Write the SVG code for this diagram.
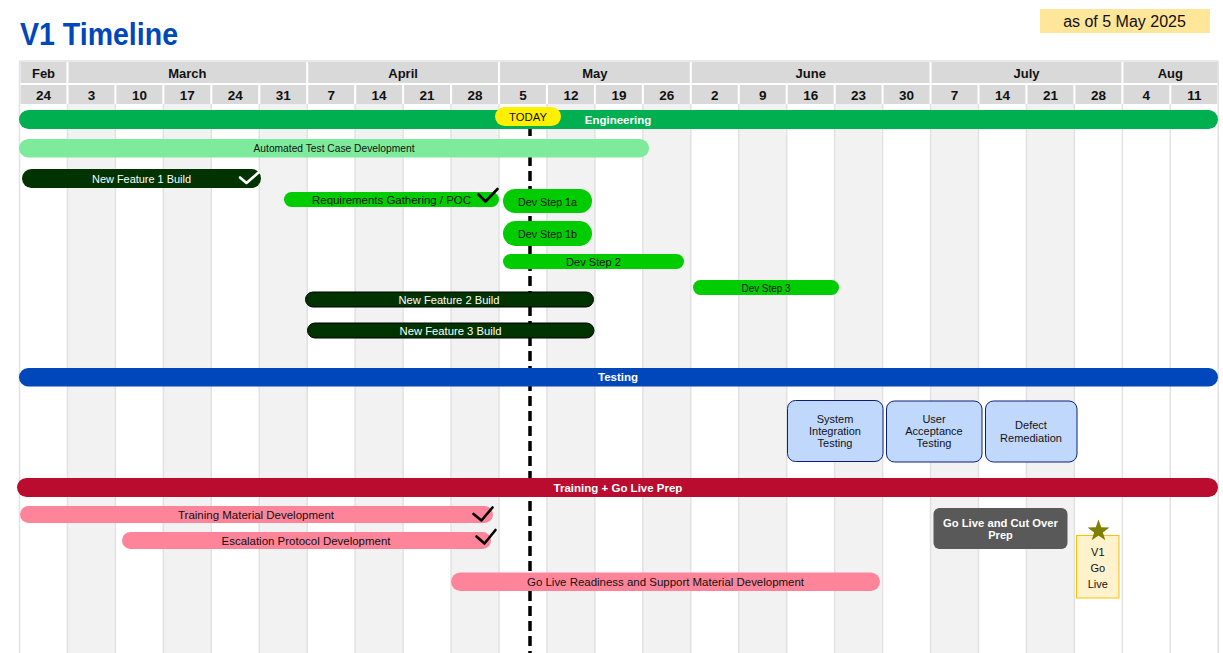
<svg xmlns="http://www.w3.org/2000/svg" width="1223" height="653" viewBox="0 0 1223 653">
<style>
text{font-family:"Liberation Sans",Arial,sans-serif;}
.mh{fill:#d9d9d9;}
.ml{font-size:13px;font-weight:bold;fill:#111;text-anchor:middle;}
.wl{font-size:13.5px;font-weight:bold;fill:#111;text-anchor:middle;}
.stripe{fill:#f2f2f2;}
.gl{stroke:#e2e2e2;stroke-width:1.5;}
.t{text-anchor:middle;fill:#111;font-size:11px;}
.w{fill:#fff;}
.hb{font-size:11.5px;font-weight:bold;fill:#fff;text-anchor:middle;}
.dg{fill:#003300;}
.bg{fill:#00cc00;}
.pk{fill:#fe8599;}
.tb{fill:#c1d8fd;stroke:#0b1f7a;stroke-width:1;}
.chk{fill:none;stroke-width:2.6;stroke-linecap:round;stroke-linejoin:round;}
</style>
<rect width="1223" height="653" fill="#fff"/>
<text x="20" y="45" font-size="32" font-weight="bold" fill="#0047bb" textLength="158" lengthAdjust="spacingAndGlyphs">V1 Timeline</text>
<g id="asof">
<rect x="1040" y="9" width="170" height="24" fill="#ffe699"/>
<text x="1124.5" y="27" font-size="16" fill="#111" text-anchor="middle">as of 5 May 2025</text>
</g>
<g id="grid">
<rect class="stripe" x="67.45" y="104" width="47.95" height="549"/>
<rect class="stripe" x="163.35" y="104" width="47.95" height="549"/>
<rect class="stripe" x="259.25" y="104" width="47.95" height="549"/>
<rect class="stripe" x="355.15" y="104" width="47.95" height="549"/>
<rect class="stripe" x="451.05" y="104" width="47.95" height="549"/>
<rect class="stripe" x="546.95" y="104" width="47.95" height="549"/>
<rect class="stripe" x="642.85" y="104" width="47.95" height="549"/>
<rect class="stripe" x="738.75" y="104" width="47.95" height="549"/>
<rect class="stripe" x="834.65" y="104" width="47.95" height="549"/>
<rect class="stripe" x="930.55" y="104" width="47.95" height="549"/>
<rect class="stripe" x="1026.45" y="104" width="47.95" height="549"/>
<g class="gl">
<line x1="19.5" y1="61" x2="19.5" y2="653"/>
<line x1="67.45" y1="104" x2="67.45" y2="653"/>
<line x1="115.4" y1="104" x2="115.4" y2="653"/>
<line x1="163.35" y1="104" x2="163.35" y2="653"/>
<line x1="211.3" y1="104" x2="211.3" y2="653"/>
<line x1="259.25" y1="104" x2="259.25" y2="653"/>
<line x1="307.2" y1="104" x2="307.2" y2="653"/>
<line x1="355.15" y1="104" x2="355.15" y2="653"/>
<line x1="403.1" y1="104" x2="403.1" y2="653"/>
<line x1="451.05" y1="104" x2="451.05" y2="653"/>
<line x1="499" y1="104" x2="499" y2="653"/>
<line x1="546.95" y1="104" x2="546.95" y2="653"/>
<line x1="594.9" y1="104" x2="594.9" y2="653"/>
<line x1="642.85" y1="104" x2="642.85" y2="653"/>
<line x1="690.8" y1="104" x2="690.8" y2="653"/>
<line x1="738.75" y1="104" x2="738.75" y2="653"/>
<line x1="786.7" y1="104" x2="786.7" y2="653"/>
<line x1="834.65" y1="104" x2="834.65" y2="653"/>
<line x1="882.6" y1="104" x2="882.6" y2="653"/>
<line x1="930.55" y1="104" x2="930.55" y2="653"/>
<line x1="978.5" y1="104" x2="978.5" y2="653"/>
<line x1="1026.45" y1="104" x2="1026.45" y2="653"/>
<line x1="1074.4" y1="104" x2="1074.4" y2="653"/>
<line x1="1122.35" y1="104" x2="1122.35" y2="653"/>
<line x1="1170.3" y1="104" x2="1170.3" y2="653"/>
<line x1="1218.25" y1="61" x2="1218.25" y2="653"/>
<line x1="19.5" y1="61" x2="1218.25" y2="61"/>
</g>
</g>
<g id="header">
<rect class="mh" x="20.5" y="62" width="45.9" height="21"/>
<rect class="mh" x="68.5" y="62" width="237.7" height="21"/>
<rect class="mh" x="308.2" y="62" width="189.8" height="21"/>
<rect class="mh" x="500" y="62" width="189.8" height="21"/>
<rect class="mh" x="691.8" y="62" width="237.7" height="21"/>
<rect class="mh" x="931.6" y="62" width="189.8" height="21"/>
<rect class="mh" x="1123.4" y="62" width="94.3" height="21"/>
<text class="ml" x="43.5" y="78">Feb</text>
<text class="ml" x="187.3" y="78">March</text>
<text class="ml" x="403.1" y="78">April</text>
<text class="ml" x="594.9" y="78">May</text>
<text class="ml" x="810.7" y="78">June</text>
<text class="ml" x="1026.5" y="78">July</text>
<text class="ml" x="1170.3" y="78">Aug</text>
<g class="mh">
<rect x="20.5" y="85" width="45.9" height="19"/>
<rect x="68.5" y="85" width="45.9" height="19"/>
<rect x="116.4" y="85" width="45.9" height="19"/>
<rect x="164.4" y="85" width="45.9" height="19"/>
<rect x="212.3" y="85" width="45.9" height="19"/>
<rect x="260.3" y="85" width="45.9" height="19"/>
<rect x="308.2" y="85" width="45.9" height="19"/>
<rect x="356.2" y="85" width="45.9" height="19"/>
<rect x="404.1" y="85" width="45.9" height="19"/>
<rect x="452.1" y="85" width="45.9" height="19"/>
<rect x="500" y="85" width="45.9" height="19"/>
<rect x="548" y="85" width="45.9" height="19"/>
<rect x="595.9" y="85" width="45.9" height="19"/>
<rect x="643.9" y="85" width="45.9" height="19"/>
<rect x="691.8" y="85" width="45.9" height="19"/>
<rect x="739.8" y="85" width="45.9" height="19"/>
<rect x="787.7" y="85" width="45.9" height="19"/>
<rect x="835.7" y="85" width="45.9" height="19"/>
<rect x="883.6" y="85" width="45.9" height="19"/>
<rect x="931.6" y="85" width="45.9" height="19"/>
<rect x="979.5" y="85" width="45.9" height="19"/>
<rect x="1027.5" y="85" width="45.9" height="19"/>
<rect x="1075.4" y="85" width="45.9" height="19"/>
<rect x="1123.4" y="85" width="45.9" height="19"/>
<rect x="1171.3" y="85" width="45.9" height="19"/>
</g>
<text class="wl" x="43.5" y="99.5">24</text>
<text class="wl" x="91.4" y="99.5">3</text>
<text class="wl" x="139.4" y="99.5">10</text>
<text class="wl" x="187.3" y="99.5">17</text>
<text class="wl" x="235.3" y="99.5">24</text>
<text class="wl" x="283.2" y="99.5">31</text>
<text class="wl" x="331.2" y="99.5">7</text>
<text class="wl" x="379.1" y="99.5">14</text>
<text class="wl" x="427.1" y="99.5">21</text>
<text class="wl" x="475" y="99.5">28</text>
<text class="wl" x="523" y="99.5">5</text>
<text class="wl" x="570.9" y="99.5">12</text>
<text class="wl" x="618.9" y="99.5">19</text>
<text class="wl" x="666.8" y="99.5">26</text>
<text class="wl" x="714.8" y="99.5">2</text>
<text class="wl" x="762.7" y="99.5">9</text>
<text class="wl" x="810.7" y="99.5">16</text>
<text class="wl" x="858.6" y="99.5">23</text>
<text class="wl" x="906.6" y="99.5">30</text>
<text class="wl" x="954.5" y="99.5">7</text>
<text class="wl" x="1002.5" y="99.5">14</text>
<text class="wl" x="1050.4" y="99.5">21</text>
<text class="wl" x="1098.4" y="99.5">28</text>
<text class="wl" x="1146.3" y="99.5">4</text>
<text class="wl" x="1194.3" y="99.5">11</text>
</g>
<g id="connectors">
<line x1="530" y1="126" x2="530" y2="653" stroke="#000" stroke-width="3.5" stroke-dasharray="10 5"/>
</g>
<g id="engineering">
<rect x="19" y="110" width="1199" height="19" rx="9.5" fill="#00b050"/>
<text class="hb" x="618" y="123.5">Engineering</text>
</g>
<g id="today">
<rect x="495" y="107" width="66" height="19" rx="9.5" fill="#fff000"/>
<text class="t" x="528" y="120.8" font-size="12" textLength="38" lengthAdjust="spacingAndGlyphs">TODAY</text>
</g>
<g id="auto-test">
<rect x="19" y="139" width="630" height="18.5" rx="9.25" fill="#7deb9b"/>
<text class="t" x="334" y="151.8" font-size="10.5" textLength="161" lengthAdjust="spacingAndGlyphs">Automated Test Case Development</text>
</g>
<g id="nf1">
<rect class="dg" x="22" y="169" width="239" height="19" rx="9.5"/>
<text class="t w" x="141.5" y="183" font-size="13" textLength="99" lengthAdjust="spacingAndGlyphs">New Feature 1 Build</text>
<path class="chk" stroke="#fff" d="M240,177.5 L246.5,183 L258.5,172.5"/>
</g>
<g id="req">
<rect class="bg" x="284" y="192" width="215" height="15" rx="7.5"/>
<text class="t" x="391.5" y="204" font-size="12.5" textLength="159" lengthAdjust="spacingAndGlyphs">Requirements Gathering / POC</text>
<path class="chk" stroke="#000" d="M478.5,194.5 L485.5,201.5 L497.5,189"/>
</g>
<g id="ds1a">
<rect class="bg" x="503" y="189" width="89" height="24" rx="12"/>
<text class="t" x="547.5" y="205.5" font-size="12" textLength="59" lengthAdjust="spacingAndGlyphs">Dev Step 1a</text>
</g>
<g id="ds1b">
<rect class="bg" x="503" y="221" width="89" height="25" rx="12.5"/>
<text class="t" x="547.5" y="238" font-size="12" textLength="59" lengthAdjust="spacingAndGlyphs">Dev Step 1b</text>
</g>
<g id="ds2">
<rect class="bg" x="503" y="254" width="181" height="15" rx="7.5"/>
<text class="t" x="593.5" y="266" font-size="12" textLength="55" lengthAdjust="spacingAndGlyphs">Dev Step 2</text>
</g>
<g id="ds3">
<rect class="bg" x="693" y="280" width="146" height="15" rx="7.5"/>
<text class="t" x="766" y="291.5" font-size="11" textLength="49" lengthAdjust="spacingAndGlyphs">Dev Step 3</text>
</g>
<g id="nf2">
<rect class="dg" x="305.5" y="292" width="288" height="15" rx="7.5" stroke="#000" stroke-width="1"/>
<text class="t w" x="449" y="304" font-size="13" textLength="101" lengthAdjust="spacingAndGlyphs">New Feature 2 Build</text>
</g>
<g id="nf3">
<rect class="dg" x="307.5" y="323" width="286.5" height="15" rx="7.5" stroke="#000" stroke-width="1"/>
<text class="t w" x="450.5" y="335" font-size="13" textLength="102" lengthAdjust="spacingAndGlyphs">New Feature 3 Build</text>
</g>
<g id="testing">
<rect x="19" y="368" width="1199" height="18.5" rx="9.25" fill="#0047bb"/>
<text class="hb" x="618" y="381.3">Testing</text>
</g>
<g id="sit">
<rect class="tb" x="787.5" y="400.5" width="95.5" height="61" rx="8"/>
<text class="t" x="835" y="422.5" font-size="10.8">System</text>
<text class="t" x="835" y="435" font-size="10.8">Integration</text>
<text class="t" x="835" y="447" font-size="10.8">Testing</text>
</g>
<g id="uat">
<rect class="tb" x="886.5" y="401" width="95.5" height="61" rx="8"/>
<text class="t" x="934" y="422.5" font-size="10.8">User</text>
<text class="t" x="934" y="435" font-size="10.8">Acceptance</text>
<text class="t" x="934" y="447" font-size="10.8">Testing</text>
</g>
<g id="defect">
<rect class="tb" x="985.5" y="401" width="91.5" height="61" rx="8"/>
<text class="t" x="1031" y="428.5" font-size="10.8">Defect</text>
<text class="t" x="1031" y="441.5" font-size="10.8">Remediation</text>
</g>
<g id="training">
<rect x="17" y="478" width="1201" height="19" rx="9.5" fill="#ba0c2f"/>
<text class="hb" x="618" y="491.5">Training + Go Live Prep</text>
</g>
<g id="tmd">
<rect class="pk" x="20" y="506" width="473" height="17" rx="8.5"/>
<text class="t" x="256" y="519" font-size="12.5" textLength="156" lengthAdjust="spacingAndGlyphs">Training Material Development</text>
<path class="chk" stroke="#000" d="M473.5,514 L481.5,520.5 L492.5,507.5"/>
</g>
<g id="epd">
<rect class="pk" x="122" y="532" width="369" height="17" rx="8.5"/>
<text class="t" x="306" y="545" font-size="12.5" textLength="169" lengthAdjust="spacingAndGlyphs">Escalation Protocol Development</text>
<path class="chk" stroke="#000" d="M476.5,536.5 L484.5,543.5 L495.5,530"/>
</g>
<g id="glr">
<rect class="pk" x="451" y="572.5" width="429" height="18.5" rx="9.25"/>
<text class="t" x="665.5" y="586.3" font-size="12.5" textLength="277" lengthAdjust="spacingAndGlyphs">Go Live Readiness and Support Material Development</text>
</g>
<g id="glc">
<rect x="933.5" y="508" width="134" height="41" rx="6" fill="#595959"/>
<text class="t w" x="1000.5" y="527" font-size="12" font-weight="bold" textLength="115" lengthAdjust="spacingAndGlyphs">Go Live and Cut Over</text>
<text class="t w" x="1000.5" y="538.5" font-size="12" font-weight="bold">Prep</text>
</g>
<g id="golive">
<rect x="1076.5" y="535.5" width="42.5" height="62.5" fill="#fff2cc" stroke="#ffc000" stroke-width="1"/>
<text class="t" x="1097.8" y="555.5" font-size="14">V1</text>
<text class="t" x="1097.8" y="571.5" font-size="14">Go</text>
<text class="t" x="1097.8" y="587.5" font-size="14">Live</text>
<polygon fill="#7f7f00" points="1098.5,519.5 1101.2,527.3 1109.4,527.5 1102.9,532.4 1105.3,540.3 1098.5,535.6 1091.7,540.3 1094.1,532.4 1087.6,527.5 1095.8,527.3"/>
</g>
</svg>
